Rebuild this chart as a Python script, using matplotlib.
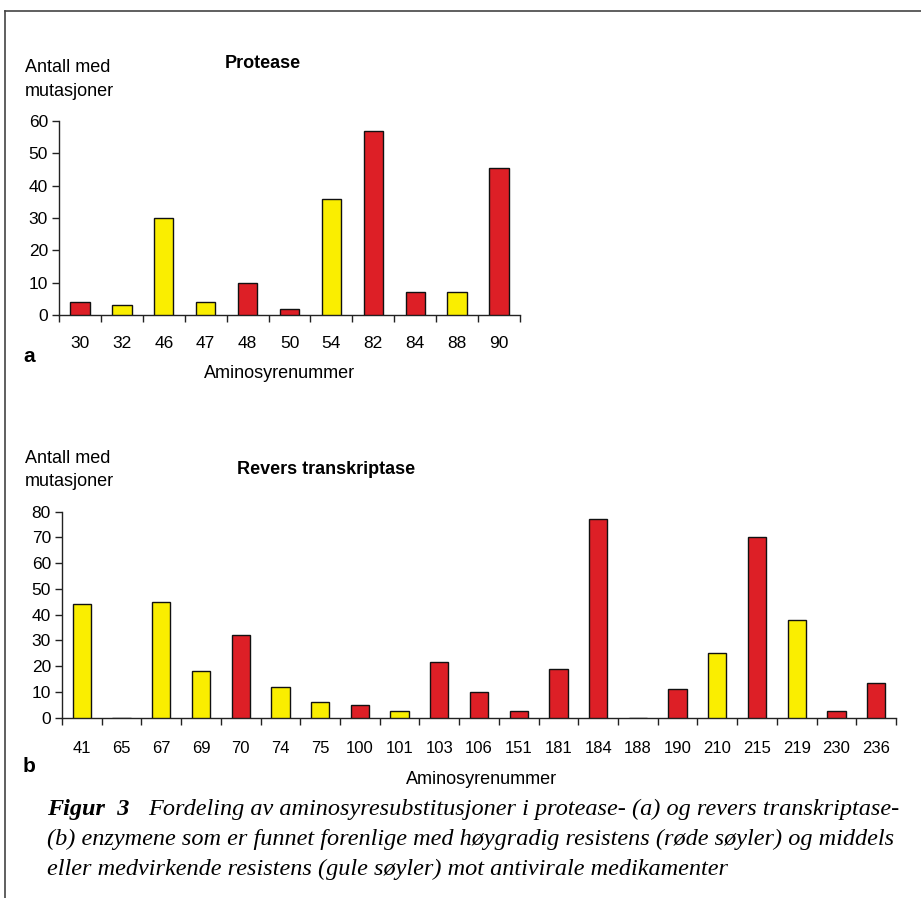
import matplotlib
matplotlib.use('Agg')
from matplotlib import pyplot as plt
import matplotlib.lines as lines

# --- DATA ------------------------------------------------------------+

prot_pos = ['30', '32', '46', '47', '48', '50', '54', '82', '84', '88', '90']
prot_val = [4, 3, 30, 4, 10, 2, 36, 57, 7, 7, 45.5]
prot_type = ['h', 'm', 'm', 'm', 'h', 'h', 'm', 'h', 'h', 'm', 'h']

rt_pos = ['41', '65', '67', '69', '70', '74', '75', '100', '101', '103', '106',
          '151', '181', '184', '188', '190', '210', '215', '219', '230', '236']
rt_val = [44, 0, 45, 18, 32, 12, 6, 5, 2.7, 21.5, 10,
          2.7, 19, 77, 0, 11, 25, 70, 38, 2.7, 13.5]
rt_type = ['m', 'h', 'm', 'm', 'h', 'm', 'm', 'h', 'm', 'h', 'h',
           'h', 'h', 'h', 'h', 'h', 'm', 'h', 'm', 'h', 'h']

colors = {'h': '#DD1F26', 'm': '#FAEE00'}

W, H = 921, 898
plt.rcParams['font.family'] = ['Liberation Sans', 'DejaVu Sans']


# --- FUNCTIONS -------------------------------------------------------+

def px(x, y):
    return x / W, 1 - y / H


def bar_panel(ax, labels, values, kinds, ymax, ystep, xsize, xpad):
    n = len(labels)
    xs = range(n)
    ax.bar(xs, values, width=0.46, color=[colors[k] for k in kinds],
           edgecolor='#111111', linewidth=1.0, zorder=3)
    ax.set_xlim(-0.5, n - 0.5)
    ax.set_ylim(0, ymax)
    ax.set_yticks(range(0, ymax + 1, ystep))
    # ticks on the category borders, labels in the middle
    ax.set_xticks([i - 0.5 for i in range(n + 1)])
    ax.set_xticklabels([])
    ax.set_xticks(list(xs), minor=True)
    ax.set_xticklabels(labels, minor=True)
    ax.tick_params(axis='x', which='major', length=5, width=1, direction='out', color='#222222')
    ax.tick_params(axis='x', which='minor', length=0, pad=xpad, labelsize=xsize)
    ax.tick_params(axis='y', length=5, width=1, pad=3, labelsize=12.5, color='#222222')
    for s in ['top', 'right']:
        ax.spines[s].set_visible(False)
    for s in ['left', 'bottom']:
        ax.spines[s].set_linewidth(1.0)
        ax.spines[s].set_color('#222222')


# --- FIGURE ----------------------------------------------------------+

fig = plt.figure(figsize=(W / 100, H / 100), dpi=100)

# frame around the figure
fig.add_artist(lines.Line2D([5 / W, 1], [1 - 11 / H, 1 - 11 / H], color='#444444', linewidth=1.2))
fig.add_artist(lines.Line2D([5 / W, 5 / W], [0, 1 - 11 / H], color='#444444', linewidth=1.2))

# PROTEASE
ax1 = fig.add_axes([59 / W, (H - 315) / H, 461 / W, 194 / H])
bar_panel(ax1, prot_pos, prot_val, prot_type, 60, 10, 12.5, 15)

fig.text(*px(25, 68), 'Antall med', fontsize=13, va='center', ha='left')
fig.text(*px(25, 91), 'mutasjoner', fontsize=13, va='center', ha='left')
fig.text(*px(263, 63), 'Protease', fontsize=13, fontweight='bold', va='center', ha='center')
fig.text(*px(23, 356), 'a', fontsize=15, fontweight='bold', va='center', ha='left')
fig.text(*px(280, 373), 'Aminosyrenummer', fontsize=13, va='center', ha='center')

# REVERS TRANSKRIPTASE
ax2 = fig.add_axes([62 / W, (H - 717.7) / H, 834 / W, 206 / H])
bar_panel(ax2, rt_pos, rt_val, rt_type, 80, 10, 12, 17)

fig.text(*px(25, 458), 'Antall med', fontsize=13, va='center', ha='left')
fig.text(*px(25, 482), 'mutasjoner', fontsize=13, va='center', ha='left')
fig.text(*px(326, 469), 'Revers transkriptase', fontsize=13, fontweight='bold', va='center', ha='center')
fig.text(*px(23, 766), 'b', fontsize=15, fontweight='bold', va='center', ha='left')
fig.text(*px(482, 779), 'Aminosyrenummer', fontsize=13, va='center', ha='center')

# CAPTION
cap_font = ['Liberation Serif', 'DejaVu Serif']
cap_size = 17.5
fig.text(*px(47, 809), 'Figur  3', family=cap_font, fontsize=cap_size, style='italic',
         fontweight='bold', va='center', ha='left')
fig.text(*px(148, 809), 'Fordeling av aminosyresubstitusjoner i protease- (a) og revers transkriptase-',
         family=cap_font, fontsize=cap_size, style='italic', va='center', ha='left')
fig.text(*px(47, 839), '(b) enzymene som er funnet forenlige med høygradig resistens (røde søyler) og middels',
         family=cap_font, fontsize=cap_size, style='italic', va='center', ha='left')
fig.text(*px(47, 869), 'eller medvirkende resistens (gule søyler) mot antivirale medikamenter',
         family=cap_font, fontsize=cap_size, style='italic', va='center', ha='left')

plt.savefig('out.png', dpi=100)
